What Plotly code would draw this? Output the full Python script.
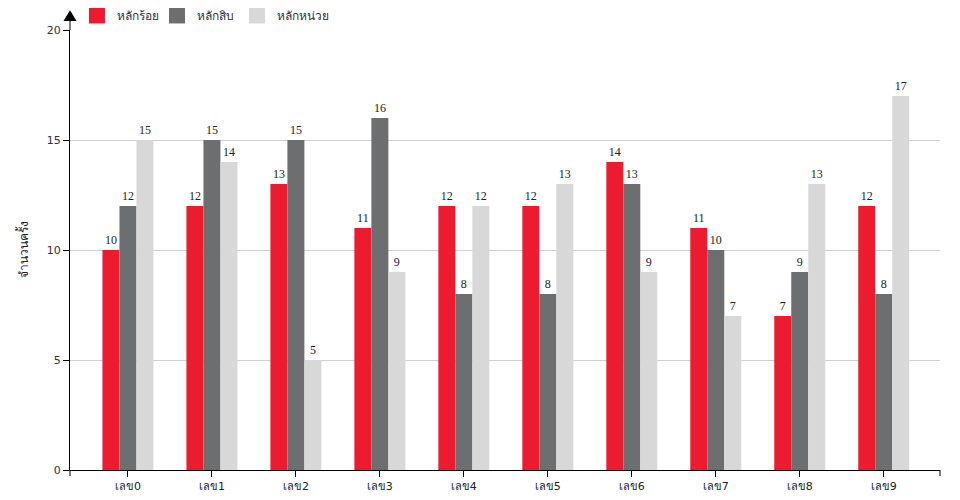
import plotly.graph_objects as go

categories = ["เลข0", "เลข1", "เลข2", "เลข3", "เลข4", "เลข5", "เลข6", "เลข7", "เลข8", "เลข9"]
hundreds = [10, 12, 13, 11, 12, 12, 14, 11, 7, 12]
tens = [12, 15, 15, 16, 8, 8, 13, 10, 9, 8]
units = [15, 14, 5, 9, 12, 13, 9, 7, 13, 17]
series_names = ["หลักร้อย", "หลักสิบ", "หลักหน่วย"]
colors = ["#ED1B2F", "#6D6E70", "#D8D8D8"]
y_ticks = [0, 5, 10, 15, 20]

label_font = dict(family="Liberation Serif, serif", size=12, color="#222222")
legend_ids = ["legend", "legend2", "legend3"]
legend_x = [0.008, 0.100, 0.192]

fig = go.Figure()
for name, vals, col, lid in zip(series_names, [hundreds, tens, units], colors, legend_ids):
    fig.add_trace(go.Bar(
        x=categories, y=vals, name=name, marker=dict(color=col, line=dict(width=0)),
        text=[str(v) for v in vals], textposition="outside", cliponaxis=False,
        textfont=label_font, outsidetextfont=label_font,
        showlegend=False,
    ))
    fig.add_trace(go.Scatter(
        x=[None], y=[None], mode="markers", name=name, legend=lid,
        marker=dict(symbol="square", size=20, color=col),
    ))

# page body has an 8px margin: shrink figure and margins to keep plot area at 70..940 x 30..470
fig.update_layout(
    width=944, height=484,
    margin=dict(l=62, r=12, t=22, b=22, autoexpand=False),
    plot_bgcolor="white", paper_bgcolor="white",
    barmode="group", bargap=0.393, bargroupgap=0,
    font=dict(family="DejaVu Sans, Noto Sans, sans-serif", size=11, color="#333"),
    xaxis=dict(type="category", range=[-0.69, 9.67], showline=True, linecolor="black",
               linewidth=1, ticks="outside", ticklen=6, tickcolor="black",
               showgrid=False, tickfont=dict(size=11, color="#222"), automargin=False),
    yaxis=dict(range=[0, 20], tickvals=y_ticks, showline=True, linecolor="black",
               linewidth=1, ticks="outside", ticklen=6, tickcolor="black",
               showgrid=True, gridcolor="#d0d0d0", zeroline=False,
               tickfont=dict(size=11, color="#333"), automargin=False,
               title=dict(text="จำนวนครั้ง", standoff=15, font=dict(size=12, color="#222"))),
)
for lid, lx in zip(legend_ids, legend_x):
    fig.update_layout({lid: dict(orientation="h", x=lx, y=1.066, xanchor="left", yanchor="top",
                                 font=dict(size=12, color="#333"), itemsizing="trace",
                                 bgcolor="rgba(0,0,0,0)")})

# axis arrow and outer ticks
fig.add_shape(type="line", xref="paper", yref="paper", x0=0, x1=0, y0=1, y1=1.022,
              line=dict(color="black", width=1))
fig.add_shape(type="path", xref="paper", yref="paper",
              path="M -0.0075 1.0205 L 0.0075 1.0205 L 0 1.045 Z",
              fillcolor="black", line=dict(color="black", width=0))
for xp in [0, 1]:
    fig.add_shape(type="line", xref="paper", yref="paper", x0=xp, x1=xp, y0=0, y1=-0.0136,
                  line=dict(color="black", width=1))

fig.write_html("out.html")
